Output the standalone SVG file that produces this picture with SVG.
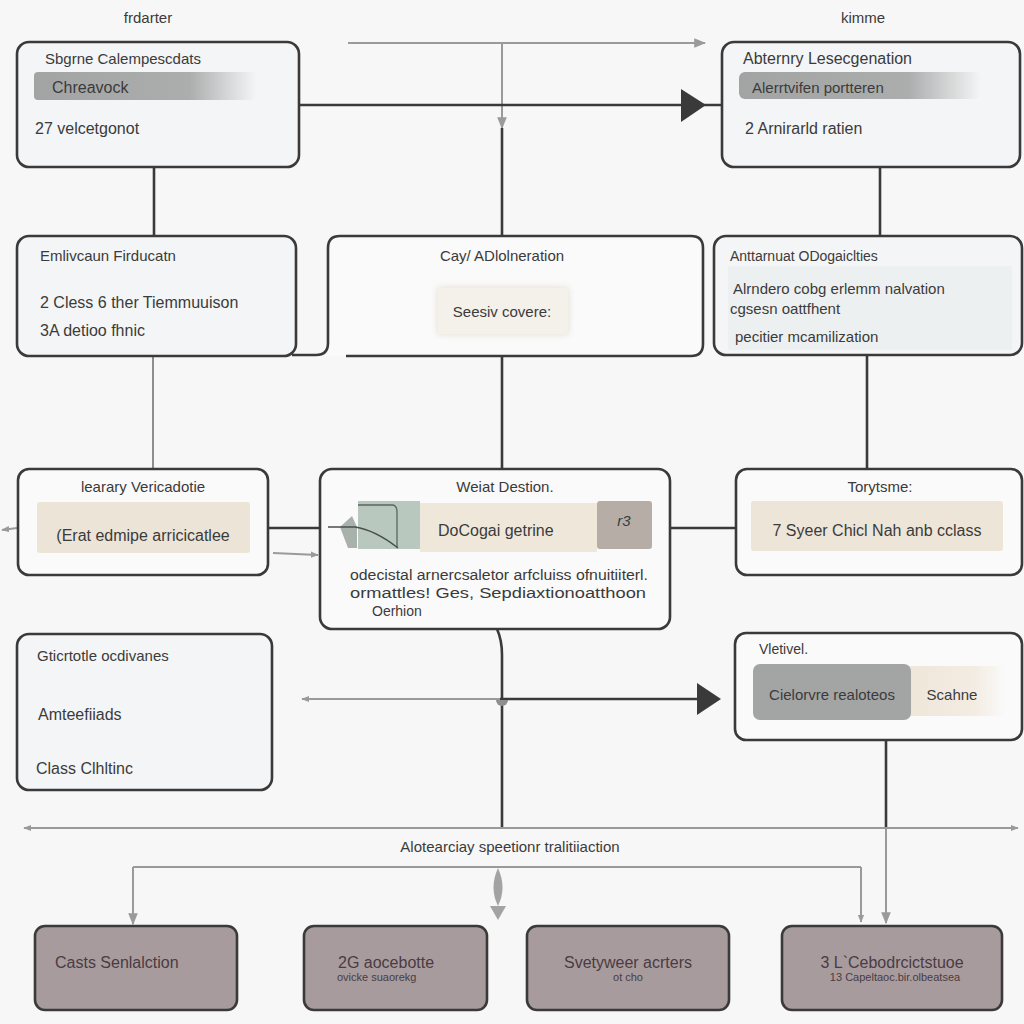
<svg xmlns="http://www.w3.org/2000/svg" width="1024" height="1024" viewBox="0 0 1024 1024">
  <defs>
    <style>
      text { font-family: "Liberation Sans", Arial, sans-serif; fill: #3b3b3b; }
      .box { fill: #f3f5f6; stroke: #3a3a3a; stroke-width: 2.6; }
      .boxw { fill: #fafafa; stroke: #3a3a3a; stroke-width: 2.6; }
      .leaf { fill: #a89b9d; stroke: #3a3a3a; stroke-width: 2.6; }
      .dark { stroke: #3a3a3a; stroke-width: 2.6; fill: none; }
      .grey { stroke: #9a9a9a; stroke-width: 2; fill: none; }
      .t15 { font-size: 15px; }
      .t16 { font-size: 16px; }
      .t14 { font-size: 14px; }
      .leaftext { fill: #4a3c42; font-size: 16px; }
      .leafsub { fill: #4a3c42; font-size: 11px; }
    </style>
    <linearGradient id="bandFade" x1="0" x2="1" y1="0" y2="0">
      <stop offset="0" stop-color="#a2a4a4"/>
      <stop offset="0.7" stop-color="#acaeae"/>
      <stop offset="1" stop-color="#acaeae" stop-opacity="0"/>
    </linearGradient>
    <linearGradient id="creamFade" x1="0" x2="1" y1="0" y2="0">
      <stop offset="0" stop-color="#efe6d9"/>
      <stop offset="0.7" stop-color="#f3ece2"/>
      <stop offset="1" stop-color="#f3ece2" stop-opacity="0"/>
    </linearGradient>
    <filter id="soft" x="-20%" y="-40%" width="140%" height="180%">
      <feGaussianBlur stdDeviation="3"/>
    </filter>
    <marker id="greyHead" viewBox="0 0 10 10" refX="9" refY="5" markerWidth="12" markerHeight="12" markerUnits="userSpaceOnUse" orient="auto">
      <path d="M0,1 L10,5 L0,9 z" fill="#9a9a9a"/>
    </marker>
    <marker id="greyHeadSmall" viewBox="0 0 10 10" refX="9" refY="5" markerWidth="8" markerHeight="8" markerUnits="userSpaceOnUse" orient="auto-start-reverse">
      <path d="M0,1 L10,5 L0,9 z" fill="#9a9a9a"/>
    </marker>
  </defs>

  <rect width="1024" height="1024" fill="#f7f7f7"/>

  <!-- Heading words above the top row -->
  <text x="148" y="23" class="t15" text-anchor="middle">frdarter</text>
  <text x="863" y="23" class="t15" text-anchor="middle">kimme</text>

  <!-- Connectors -->
  <g id="connectors">
    <!-- top row -->
    <line x1="348" y1="43" x2="705" y2="43" class="grey" marker-end="url(#greyHead)"/>
    <line x1="502" y1="43" x2="502" y2="128" class="grey" marker-end="url(#greyHead)"/>
    <line x1="502" y1="128" x2="502" y2="236" class="dark"/>
    <line x1="299" y1="105" x2="722" y2="105" class="dark"/>
    <path d="M681,89 L706,105 L681,122 z" fill="#3a3a3a"/>
    <line x1="154" y1="167" x2="154" y2="236" class="dark"/>
    <line x1="880" y1="167" x2="880" y2="236" class="dark"/>
    <!-- second to third row -->
    <line x1="153" y1="356" x2="153" y2="468" stroke="#8e8e8e" stroke-width="2"/>
    <line x1="502" y1="356" x2="502" y2="469" class="dark"/>
    <line x1="867" y1="355" x2="867" y2="469" class="dark"/>
    <!-- third row links -->
    <line x1="268" y1="528" x2="320" y2="528" class="dark"/>
    <line x1="670" y1="528" x2="736" y2="528" class="dark"/>
    <line x1="17" y1="528" x2="2" y2="530" class="grey" marker-end="url(#greyHeadSmall)"/>
    <line x1="273" y1="553" x2="318" y2="555" class="grey" marker-end="url(#greyHeadSmall)"/>
    <!-- from the middle node down -->
    <path d="M497,629 Q502,640 502,655 V828" class="dark"/>
    <line x1="512" y1="699" x2="302" y2="699" class="grey" marker-end="url(#greyHeadSmall)"/>
    <line x1="500" y1="699" x2="700" y2="699" class="dark"/>
    <path d="M697,683 L721,699 L697,715 z" fill="#3a3a3a"/>
    <path d="M496,700 A6,6 0 0 0 508,700 z" fill="#8e8e8e"/>
    <!-- right column down to the last leaf -->
    <line x1="886" y1="740" x2="886" y2="828" class="dark"/>
    <line x1="886" y1="828" x2="886" y2="923" class="grey" marker-end="url(#greyHead)"/>
    <!-- wide bus -->
    <line x1="24" y1="828" x2="1018" y2="828" class="grey" marker-start="url(#greyHeadSmall)" marker-end="url(#greyHeadSmall)"/>
    <line x1="133" y1="867" x2="861" y2="867" class="grey"/>
    <line x1="133" y1="867" x2="133" y2="924" class="grey" marker-end="url(#greyHead)"/>
    <line x1="861" y1="867" x2="861" y2="922" class="grey" marker-end="url(#greyHeadSmall)"/>
    <path d="M498,868 Q507,888 498,906 Q489,888 498,868 z" fill="#a3a3a3"/>
    <path d="M490,906 L506,906 L498,920 z" fill="#a3a3a3"/>
  </g>

  <text x="510" y="852" class="t15" text-anchor="middle">Alotearciay speetionr tralitiiaction</text>

  <!-- Top-left node -->
  <g id="node-start">
    <rect x="17" y="42" width="282" height="125" rx="12" class="box"/>
    <text x="45" y="64" class="t15">Sbgrne Calempescdats</text>
    <rect x="34" y="72" width="222" height="28" rx="4" fill="url(#bandFade)"/>
    <text x="52" y="93" class="t16">Chreavock</text>
    <text x="35" y="134" class="t16">27 velcetgonot</text>
  </g>

  <!-- Top-right node -->
  <g id="node-end">
    <rect x="722" y="42" width="298" height="125" rx="12" class="box"/>
    <text x="743" y="64" class="t16">Abternry Lesecgenation</text>
    <rect x="739" y="72" width="242" height="27" rx="6" fill="url(#bandFade)"/>
    <text x="752" y="93" class="t15">Alerrtvifen portteren</text>
    <text x="745" y="134" class="t16">2 Arnirarld ratien</text>
  </g>

  <!-- Second row -->
  <g id="node-intro">
    <rect x="17" y="236" width="279" height="120" rx="12" class="box"/>
    <text x="40" y="261" class="t15">Emlivcaun Firducatn</text>
    <text x="40" y="308" class="t16">2 Cless 6 ther Tiemmuuison</text>
    <text x="40" y="336" class="t16">3A detioo fhnic</text>
  </g>

  <g id="node-coverage">
    <path d="M292,355 H316 Q328,355 328,343 V248 Q328,236 340,236 H691 Q703,236 703,248 V344 Q703,356 691,356 H346" fill="#fafafa" stroke="#3a3a3a" stroke-width="2.6"/>
    <text x="502" y="261" class="t15" text-anchor="middle">Cay/ ADlolneration</text>
    <rect x="437" y="287" width="132" height="48" rx="4" fill="#e8e2d8" filter="url(#soft)"/>
    <rect x="438" y="288" width="130" height="46" rx="4" fill="#f4f0ea"/>
    <text x="502" y="317" class="t15" text-anchor="middle">Seesiv covere:</text>
  </g>

  <g id="node-analysis">
    <rect x="714" y="236" width="308" height="119" rx="12" class="box"/>
    <rect x="728" y="266" width="284" height="84" fill="#edf0f1"/>
    <text x="730" y="261" class="t14">Anttarnuat ODogaiclties</text>
    <text x="733" y="294" class="t15">Alrndero cobg erlemm nalvation</text>
    <text x="730" y="314" class="t15">cgsesn oattfhent</text>
    <text x="735" y="342" class="t15">pecitier mcamilization</text>
  </g>

  <!-- Third row -->
  <g id="node-library">
    <rect x="18" y="469" width="250" height="106" rx="11" class="boxw"/>
    <text x="143" y="492" class="t15" text-anchor="middle">learary Vericadotie</text>
    <rect x="37" y="502" width="213" height="51" rx="3" fill="#ece4d7"/>
    <text x="143" y="541" class="t16" text-anchor="middle">(Erat edmipe arricicatlee</text>
  </g>

  <g id="node-destination">
    <rect x="320" y="469" width="350" height="160" rx="12" class="boxw"/>
    <text x="505" y="492" class="t15" text-anchor="middle">Weiat Destion.</text>
    <rect x="358" y="501" width="62" height="48" fill="#b9c8bf"/>
    <rect x="420" y="503" width="177" height="49" fill="#efe8da"/>
    <rect x="597" y="501" width="55" height="48" rx="3" fill="#b6aea6"/>
    <path d="M358,505 H392 Q397,505 397,512 V548" fill="none" stroke="#5a6660" stroke-width="1.3"/>
    <path d="M340,527 L352,516 L357,527 V548 H348 z" fill="#a9b1ac"/>
    <path d="M328,527 H355 Q375,530 398,548" fill="none" stroke="#4a4f4c" stroke-width="1.4"/>
    <text x="438" y="536" class="t16">DoCogai getrine</text>
    <text x="624" y="526" class="t15" font-style="italic" text-anchor="middle">r3</text>
    <text x="350" y="580" class="t14" textLength="298" lengthAdjust="spacingAndGlyphs">odecistal arnercsaletor arfcluiss ofnuitiiterl.</text>
    <text x="350" y="598" class="t14" textLength="296" lengthAdjust="spacingAndGlyphs">ormattles! Ges, Sepdiaxtionoatthoon</text>
    <text x="372" y="616" class="t14">Oerhion</text>
  </g>

  <g id="node-type">
    <rect x="736" y="469" width="286" height="106" rx="11" class="boxw"/>
    <text x="880" y="492" class="t15" text-anchor="middle">Torytsme:</text>
    <rect x="751" y="501" width="252" height="50" rx="3" fill="#ede5d8"/>
    <text x="877" y="536" class="t16" text-anchor="middle">7 Syeer Chicl Nah anb cclass</text>
  </g>

  <!-- Fourth row -->
  <g id="node-objectives">
    <rect x="17" y="634" width="255" height="156" rx="12" class="box"/>
    <text x="37" y="661" class="t15">Gticrtotle ocdivanes</text>
    <text x="38" y="720" class="t16">Amteefiiads</text>
    <text x="36" y="774" class="t16">Class Clhltinc</text>
  </g>

  <g id="node-level">
    <rect x="735" y="633" width="287" height="107" rx="11" class="boxw"/>
    <text x="759" y="654" class="t14">Vletivel.</text>
    <rect x="905" y="666" width="100" height="50" fill="url(#creamFade)"/>
    <rect x="753" y="664" width="158" height="56" rx="7" fill="#a3a5a5"/>
    <text x="832" y="700" class="t15" text-anchor="middle">Cielorvre realoteos</text>
    <text x="952" y="700" class="t15" text-anchor="middle">Scahne</text>
  </g>

  <!-- Bottom row -->
  <g id="leaf-1">
    <rect x="35" y="926" width="202" height="84" rx="10" class="leaf"/>
    <text x="55" y="968" class="leaftext">Casts Senlalction</text>
  </g>
  <g id="leaf-2">
    <rect x="304" y="926" width="183" height="84" rx="10" class="leaf"/>
    <text x="338" y="968" class="leaftext">2G aocebotte</text>
    <text x="337" y="981" class="leafsub">ovicke suaorekg</text>
  </g>
  <g id="leaf-3">
    <rect x="527" y="926" width="202" height="84" rx="10" class="leaf"/>
    <text x="628" y="968" class="leaftext" text-anchor="middle">Svetyweer acrters</text>
    <text x="628" y="981" class="leafsub" text-anchor="middle">ot cho</text>
  </g>
  <g id="leaf-4">
    <rect x="782" y="926" width="220" height="84" rx="10" class="leaf"/>
    <text x="892" y="968" class="leaftext" text-anchor="middle">3 L`Cebodrcictstuoe</text>
    <text x="895" y="981" class="leafsub" text-anchor="middle">13 Capeltaoc.bir.olbeatsea</text>
  </g>
</svg>
